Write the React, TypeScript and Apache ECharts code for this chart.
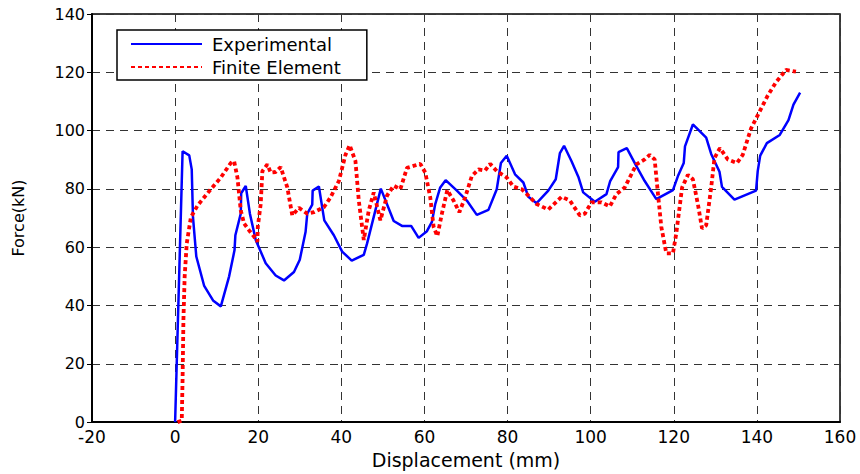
import React, { useEffect, useRef } from 'react';
import * as echarts from 'echarts';

// experimental curve (displacement mm / force kN)
const expDisp = [
    0, 1.8, 3.4, 4.0, 4.3, 5.1, 7.0, 9.2, 11.0, 13.0,
    14.3, 14.5, 15.8, 15.9, 17.0, 18.0, 19.4, 21.8, 24.2, 26.2,
    28.6, 30.0, 31.4, 31.8, 33.0, 33.1, 34.6, 35.9, 38.2, 40.2,
    42.5, 45.4, 46.2, 49.5, 52.6, 54.6, 56.8, 58.6, 60.6, 61.8,
    62.6, 63.8, 65.1, 67.8, 70.2, 72.6, 75.4, 77.4, 78.4, 79.8,
    81.8, 83.8, 85.0, 87.0, 89.8, 91.6, 92.6, 93.6, 95.4, 97.1,
    98.2, 101.0, 103.8, 104.7, 106.6, 106.7, 108.7, 111.0, 113.0, 115.8,
    119.8, 121.0, 122.4, 122.7, 124.6, 127.8, 129.0, 131.0, 131.6, 134.6,
    139.8, 140.2, 140.8, 142.4, 145.5, 147.6, 148.8, 150.4,
];
const expForce = [
    0, 92.9, 91.5, 86.7, 70.3, 56.8, 46.7, 41.6, 39.7, 50,
    59, 64.1, 71.5, 78.5, 81, 71.5, 62.5, 54.5, 50.3, 48.6,
    51.5, 55.7, 65.3, 71.5, 74.6, 79.4, 80.8, 69.2, 64.1, 58.5,
    55.4, 57.4, 61.3, 80.1, 69, 67.3, 67.3, 63.2, 65.5, 68.7,
    74.8, 80.5, 83, 79.4, 76, 71.1, 72.8, 79.9, 88.9, 91.4,
    85, 82.2, 77.3, 75.1, 79.4, 83.3, 92.3, 94.8, 89.5, 83.9,
    78.8, 75.6, 78.2, 82.7, 87.5, 92.6, 94, 87.8, 82.7, 76.5,
    79.6, 84.4, 88.9, 94.6, 102.1, 97.6, 92, 85.9, 80.7, 76.3,
    79.4, 86.1, 91.4, 95.7, 98.5, 103.6, 108.9, 113,
];

// finite element curve
const feDisp = [
    0.6, 1.6, 1.8, 2.0, 2.3, 2.8, 3.8, 5.4, 8.6, 11.0,
    13.4, 14.2, 15.0, 15.8, 16.6, 17.8, 19.0, 19.8, 19.9, 20.6,
    21.0, 22.2, 23.0, 24.2, 25.4, 27.0, 28.2, 29.8, 31.8, 33.4,
    35.8, 37.4, 39.4, 41.0, 42.0, 43.4, 44.2, 45.4, 46.6, 47.8,
    49.4, 51.0, 52.6, 54.2, 55.8, 59.0, 60.2, 61.4, 62.2, 63.1,
    64.2, 65.5, 67.0, 68.4, 69.8, 71.4, 73.0, 74.6, 75.8, 77.4,
    79.8, 81.4, 83.4, 85.0, 87.0, 89.8, 93.0, 95.0, 97.4, 98.6,
    100.2, 102.6, 104.6, 106.2, 108.2, 109.4, 111.0, 113.0, 114.2, 115.4,
    116.2, 117.0, 118.2, 119.8, 120.6, 122.0, 123.4, 124.6, 125.8, 126.8,
    127.8, 129.0, 129.8, 131.1, 133.0, 135.2, 136.6, 138.6, 140.6, 142.6,
    144.6, 147.0, 149.4,
];
const feForce = [
    0, 0.5, 15, 35, 50, 61.3, 70.3, 74.3, 79.9, 83.9,
    88.9, 89.5, 83.9, 72.6, 68.1, 65.8, 63.6, 61.9, 67, 74.8,
    86.1, 88.4, 85.6, 85.8, 87.5, 80.5, 70.9, 73.5, 71.5, 72,
    73.7, 77.1, 82.7, 91.7, 95, 89.5, 76, 62.5, 72.6, 78.8,
    69.2, 77.7, 81.1, 79.9, 87.2, 88.6, 85.6, 77.1, 67, 63.8,
    71.5, 79.6, 76, 72, 77.1, 84.4, 86.7, 86.3, 88.6, 86.1,
    83.9, 80.8, 79.9, 77.7, 74.8, 72.9, 77.3, 76, 70.9, 71.5,
    75.4, 75.4, 74, 78.2, 80.5, 83.9, 88.4, 90.1, 91.7, 90.1,
    78.2, 67, 57.9, 57.9, 64.7, 80.5, 84.8, 83.3, 74.8, 66.4,
    67.5, 80.5, 90.6, 94, 90.1, 88.9, 91.7, 100.8, 106.4, 112,
    116.6, 120.8, 120.2,
];

const seriesNames = ['Experimental', 'Finite Element'];

const FONT = 'DejaVu Sans';

const App: React.FC = () => {
    const chartRef = useRef<HTMLDivElement>(null);

    useEffect(() => {
        if (!chartRef.current) return;
        const chart = echarts.init(chartRef.current, undefined, { renderer: 'svg' });

        const expData = expDisp.map((d, i) => [d, expForce[i]]);
        const feData = feDisp.map((d, i) => [d, feForce[i]]);

        chart.setOption({
            animation: false,
            backgroundColor: '#fff',
            textStyle: { fontFamily: FONT },
            grid: {
                left: 92,
                right: 20,
                top: 14,
                bottom: 46,
                show: true,
                borderColor: '#000',
                borderWidth: 1.5,
            },
            legend: {
                data: seriesNames,
                orient: 'vertical',
                left: 117,
                top: 30,
                itemWidth: 71,
                itemHeight: 14,
                itemGap: 3,
                padding: [4, 26, 3, 13],
                borderColor: '#000',
                borderWidth: 1.5,
                borderRadius: 0,
                backgroundColor: '#fff',
                // hide the marker symbol, keep only the line sample
                itemStyle: { opacity: 0 },
                textStyle: {
                    fontFamily: FONT,
                    fontSize: 18,
                    lineHeight: 20,
                    color: '#000',
                    padding: [0, 0, 0, 5],
                },
            },
            xAxis: {
                type: 'value',
                min: -20,
                max: 160,
                interval: 20,
                name: 'Displacement (mm)',
                nameLocation: 'middle',
                nameGap: 24,
                nameTextStyle: { fontFamily: FONT, fontSize: 19, color: '#000' },
                axisLine: { show: true, onZero: false, lineStyle: { color: '#000', width: 2 } },
                axisTick: { show: false },
                axisLabel: { margin: 6, fontFamily: FONT, fontSize: 17, color: '#000' },
                splitLine: { show: true, lineStyle: { type: [8, 6], color: '#333', width: 1 } },
            },
            yAxis: {
                type: 'value',
                min: 0,
                max: 140,
                interval: 20,
                name: 'Force(kN)',
                nameLocation: 'middle',
                nameRotate: 90,
                nameGap: 66,
                nameTextStyle: { fontFamily: FONT, fontSize: 16, color: '#000' },
                axisLine: { show: true, onZero: false, lineStyle: { color: '#000', width: 2 } },
                axisTick: { show: true, length: 5, lineStyle: { color: '#000', width: 1 } },
                axisLabel: { margin: 7, fontFamily: FONT, fontSize: 16, color: '#000' },
                splitLine: { show: true, lineStyle: { type: [8, 6], color: '#333', width: 1 } },
            },
            series: [
                {
                    name: seriesNames[0],
                    type: 'line',
                    data: expData,
                    symbol: 'none',
                    showSymbol: false,
                    itemStyle: { color: '#0000ff' },
                    lineStyle: { color: '#0000ff', width: 2.5 },
                },
                {
                    name: seriesNames[1],
                    type: 'line',
                    data: feData,
                    symbol: 'none',
                    showSymbol: false,
                    itemStyle: { color: '#ff0000' },
                    lineStyle: { color: '#ff0000', width: 3.8, type: [4, 3] },
                },
            ],
        });

        return () => chart.dispose();
    }, []);

    return (
        <div
            ref={chartRef}
            style={{ position: 'absolute', left: 0, top: 0, width: 860, height: 474 }}
        />
    );
};

export default App;
